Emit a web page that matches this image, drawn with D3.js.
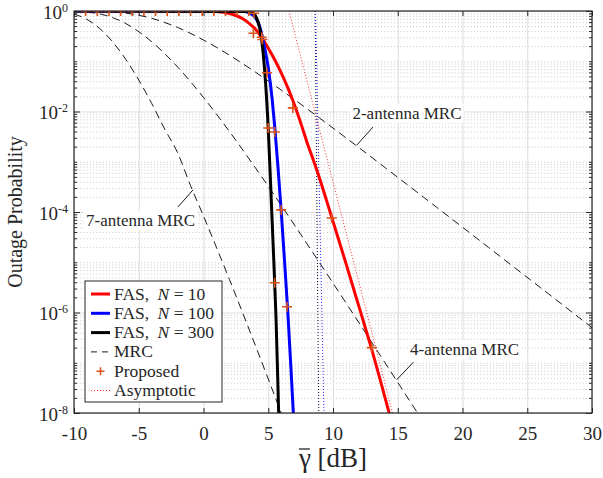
<!DOCTYPE html>
<html><head><meta charset="utf-8">
<script src="https://cdn.jsdelivr.net/npm/d3@7"></script>
<style>
body{margin:0;background:#fff}
svg{display:block}
text{font-family:"Liberation Serif","DejaVu Serif",serif;fill:#262626}
</style>
</head><body>
<svg id="chart" width="603" height="478"></svg>
<script>
// ---------------- data ----------------
const xTickValues = [-10,-5,0,5,10,15,20,25,30];
const yTickExponents = [0,-2,-4,-6,-8];

// MRC (dashed)
const mrc2X = [-10,-8,-6,-4,-2,0,2,4,6,8,10,12,14,16,18,20,22,24,26,28,30];
const mrc2P = [0.9995,0.9867,0.907,0.715,0.470,0.2642,0.1323,0.0609,0.0267,0.01131,4.68e-3,1.91e-3,7.72e-4,3.10e-4,1.243e-4,4.97e-5,1.983e-5,7.90e-6,3.155e-6,1.256e-6,5.0e-7];

const mrc4X = [-10,-8,-6,-4,-2,0,2,4,6,8,10,12,14,16,18];
const mrc4P = [0.9897,0.8745,0.5628,0.2448,0.0769,0.0190,4.01e-3,7.63e-4,1.358e-4,2.315e-5,3.845e-6,6.28e-7,1.014e-7,1.626e-8,2.6e-9];

const mrc7X = [-10,-9,-8,-7,-6,-5,-4,-3,-2,-1,0,1,2,3,4,5,6,7];
const mrc7P = [0.8699,0.6799,0.4437,0.240,0.1087,0.04235,0.01448,4.48e-3,1.51e-3,3.34e-4,8.32e-5,1.98e-5,4.56e-6,1.02e-6,2.22e-7,4.76e-8,1.0e-8,2.1e-9];

// FAS (solid)
const fas10X = [-10,-2,0,1,2,2.5,3,3.5,4,4.5,5,5.5,6,6.5,7,7.5,8,8.5,9,9.5,10,11,12,13,14,14.6];
const fas10P = [1,1,0.993,0.973,0.891,0.813,0.708,0.575,0.437,0.295,0.182,0.107,0.0589,0.0302,0.0141,6.0e-3,2.4e-3,1.05e-3,4.4e-4,1.7e-4,6.5e-5,9.5e-6,1.32e-6,1.8e-7,2.1e-8,5.6e-9];

const fas100X = [-10,3,3.5,4,4.3,4.6,5,5.3,5.5,5.75,6,6.25,6.5,6.75,7];
const fas100P = [1,0.993,0.933,0.741,0.525,0.263,0.0741,0.0178,5.0e-3,7.9e-4,1.05e-4,1.12e-5,1.12e-6,7.9e-8,5.0e-9];

const fas300X = [-10,3.5,3.8,4,4.2,4.4,4.6,4.8,5,5.2,5.4,5.6,5.8,5.9];
const fas300P = [1,0.977,0.912,0.813,0.617,0.380,0.151,0.0355,4.5e-3,2.8e-4,1.6e-5,7.9e-7,1.1e-8,1.3e-9];

// Proposed (markers)
const propX = [-10,-9.1,-8.2,-7.3,-6.4,-5.5,-4.6,-3.7,-2.8,-1.9,-1,-0.1,0.8,1.7,2.6,3.5,3.9,3.85,4.5,4.55,4.9,6.9,5.0,5.5,6.0,9.9,5.5,6.45,13.0];
const propP = [1,1,1,1,1,1,1,1,1,1,1,1,1,1,1,1,0.9,0.36,0.30,0.27,0.059,0.0118,4.7e-3,3.9e-3,1.1e-4,7.6e-5,3.9e-6,1.3e-6,2.0e-7];

// Asymptotic (dotted)
const asy10X = [6.6,14.6];   const asy10P = [1,1e-8];
const asy100X = [8.65,9.3];  const asy100P = [1,1e-8];
const asy300X = [8.62,8.9];  const asy300P = [1,1e-8];

// ---------------- layout ----------------
const FONT = "'Liberation Serif','DejaVu Serif',serif";
const svg = d3.select("#chart");
const L = 74, R = 592, T = 11, B = 413;
const x = d3.scaleLinear().domain([-10,30]).range([L,R]);
const y = d3.scaleLog().domain([1e-8,1]).range([B,T]);

const majorY = yTickExponents.map(e => Math.pow(10,e));
const minorY = [];
for (let e = -8; e < 0; e++) for (let k = 1; k <= 9; k++) {
  const v = k*Math.pow(10,e);
  if (!(k===1 && e%2===0)) minorY.push(v);
}
const allMinorTickY = [];
for (let e = -8; e < 0; e++) for (let k = 2; k <= 9; k++) allMinorTickY.push(k*Math.pow(10,e));
const oddDecades = [-1,-3,-5,-7].map(e=>Math.pow(10,e));

svg.append("defs").append("clipPath").attr("id","clip")
  .append("rect").attr("x",L).attr("y",T).attr("width",R-L).attr("height",B-T);

// grid
const grid = svg.append("g");
grid.append("g").attr("transform",`translate(${L},0)`)
  .call(d3.axisLeft(y).tickValues(minorY).tickSize(-(R-L)).tickFormat(""))
  .call(g=>g.select(".domain").remove())
  .call(g=>g.selectAll("line").attr("stroke","#bdbdbd").attr("stroke-width",0.8).attr("stroke-dasharray","1,2.2"));
grid.append("g").attr("transform",`translate(0,${B})`)
  .call(d3.axisBottom(x).tickValues(xTickValues).tickSize(-(B-T)).tickFormat(""))
  .call(g=>g.select(".domain").remove())
  .call(g=>g.selectAll("line").attr("stroke","#dcdcdc").attr("stroke-width",1));
grid.append("g").attr("transform",`translate(${L},0)`)
  .call(d3.axisLeft(y).tickValues(majorY).tickSize(-(R-L)).tickFormat(""))
  .call(g=>g.select(".domain").remove())
  .call(g=>g.selectAll("line").attr("stroke","#dcdcdc").attr("stroke-width",1));

// curves
const plot = svg.append("g").attr("clip-path","url(#clip)");
const line = d3.line().x(d=>x(d[0])).y(d=>y(d[1])).curve(d3.curveMonotoneX);
const zip = (xs,ps) => xs.map((v,i)=>[v,ps[i]]);

function drawLine(xs, ps, color, width, dash){
  plot.append("path").datum(zip(xs,ps))
    .attr("d",line).attr("fill","none").attr("stroke",color)
    .attr("stroke-width",width).attr("stroke-dasharray",dash||null);
}
drawLine(mrc2X, mrc2P, "#000", 0.9, "8,5");
drawLine(mrc4X, mrc4P, "#000", 0.9, "8,5");
drawLine(mrc7X, mrc7P, "#000", 0.9, "8,5");
drawLine(asy10X, asy10P, "#ff3030", 1, "1,2");
drawLine(asy300X, asy300P, "#000033", 1, "1,2");
drawLine(asy100X, asy100P, "#2020ff", 1, "1,2");
drawLine(fas10X, fas10P, "#ff0000", 3);
drawLine(fas100X, fas100P, "#0000ff", 3);
drawLine(fas300X, fas300P, "#000000", 3);

const mk = 5;
plot.append("g").selectAll("path").data(zip(propX,propP)).join("path")
  .attr("d", d=>{const px=x(d[0]), py=y(d[1]); return `M${px-mk},${py}H${px+mk}M${px},${py-mk}V${py+mk}`;})
  .attr("stroke","#d95319").attr("stroke-width",1.6).attr("fill","none");

// axes ticks (inward)
function styleAxis(g){ g.select(".domain").remove(); g.selectAll("line").attr("stroke","#262626"); }
const gBottom = svg.append("g").attr("transform",`translate(0,${B})`)
  .call(d3.axisBottom(x).tickValues(xTickValues).tickSize(-5).tickPadding(14).tickFormat(d=>d))
  .call(styleAxis);
gBottom.selectAll("text").style("font-size","19px").style("font-family",FONT).attr("fill","#262626");
svg.append("g").attr("transform",`translate(0,${T})`)
  .call(d3.axisTop(x).tickValues(xTickValues).tickSize(-5).tickFormat("")).call(styleAxis);

svg.append("g").attr("transform",`translate(${L},0)`)
  .call(d3.axisLeft(y).tickValues(majorY).tickSize(-6).tickFormat("")).call(styleAxis);
svg.append("g").attr("transform",`translate(${L},0)`)
  .call(d3.axisLeft(y).tickValues(allMinorTickY.concat(oddDecades)).tickSize(-3).tickFormat("")).call(styleAxis);
svg.append("g").attr("transform",`translate(${R},0)`)
  .call(d3.axisRight(y).tickValues(majorY).tickSize(-6).tickFormat("")).call(styleAxis);
svg.append("g").attr("transform",`translate(${R},0)`)
  .call(d3.axisRight(y).tickValues(allMinorTickY.concat(oddDecades)).tickSize(-3).tickFormat("")).call(styleAxis);

// y tick labels 10^e
const yl = svg.append("g");
yTickExponents.forEach(e=>{
  const t = yl.append("text").attr("x",L-6).attr("y",y(Math.pow(10,e))+7.5).attr("text-anchor","end").style("font-family",FONT);
  t.append("tspan").style("font-size","19px").text("10");
  t.append("tspan").style("font-size","12px").attr("dy",-7).text(e);
});

// box
svg.append("rect").attr("x",L).attr("y",T).attr("width",R-L).attr("height",B-T)
  .attr("fill","none").attr("stroke","#262626").attr("stroke-width",1.2);

// axis titles
svg.append("text").attr("transform",`translate(22,${(T+B)/2}) rotate(-90)`)
  .attr("text-anchor","middle").style("font-family",FONT).style("font-size","20px").text("Outage Probability");
const xl = svg.append("text").attr("x",(L+R)/2).attr("y",467).attr("text-anchor","middle").style("font-family",FONT).style("font-size","27px");
xl.append("tspan").attr("id","gam").text("γ");
xl.append("tspan").text(" [dB]");
const gb = document.getElementById("gam").getBBox();
svg.append("line").attr("x1",gb.x+1).attr("x2",gb.x+gb.width-1).attr("y1",449).attr("y2",449)
  .attr("stroke","#262626").attr("stroke-width",1.3);

// annotations
function annot(txt, tx, tp, vx, vp, ex, ep){
  const g = svg.append("g");
  const t = g.append("text").attr("x",x(tx)).attr("y",y(tp)).style("font-family",FONT).style("font-size","17px").text(txt);
  const bb = t.node().getBBox();
  g.insert("rect","text").attr("x",bb.x-2).attr("y",bb.y).attr("width",bb.width+4).attr("height",bb.height).attr("fill","#fff");
  g.append("line").attr("x1",x(vx)).attr("y1",y(vp)).attr("x2",x(ex)).attr("y2",y(ep)).attr("stroke","#000").attr("stroke-width",0.9);
}
annot("2-antenna MRC", 11.5, Math.pow(10,-2.15), 11.83, Math.pow(10,-2.67), 13.09, Math.pow(10,-2.31));
annot("7-antenna MRC", -9.07, Math.pow(10,-4.28), -0.81, Math.pow(10,-3.56), -1.97, Math.pow(10,-3.90));
annot("4-antenna MRC", 15.95, Math.pow(10,-6.85), 14.92, Math.pow(10,-7.34), 16.2, Math.pow(10,-6.99));

// legend
const lg = svg.append("g");
lg.append("rect").attr("x",85).attr("y",281).attr("width",137).attr("height",121)
  .attr("fill","#fff").attr("stroke","#262626").attr("stroke-width",1);
const legendItems = [
  {type:"line", color:"#ff0000", w:3, label:["FAS, ","N"," = 10"]},
  {type:"line", color:"#0000ff", w:3, label:["FAS, ","N"," = 100"]},
  {type:"line", color:"#000000", w:3, label:["FAS, ","N"," = 300"]},
  {type:"line", color:"#000", w:0.9, dash:"6,5", label:["MRC"]},
  {type:"marker", color:"#d95319", label:["Proposed"]},
  {type:"line", color:"#ff3030", w:1, dash:"1,2", label:["Asymptotic"]}
];
legendItems.forEach((it,i)=>{
  const cy = 294 + i*19.3;
  if (it.type==="line") {
    lg.append("line").attr("x1",91).attr("x2",110).attr("y1",cy).attr("y2",cy)
      .attr("stroke",it.color).attr("stroke-width",it.w).attr("stroke-dasharray",it.dash||null);
  } else {
    lg.append("path").attr("d",`M${100.5-4},${cy}H${100.5+4}M${100.5},${cy-4}V${cy+4}`)
      .attr("stroke",it.color).attr("stroke-width",1.5);
  }
  const t = lg.append("text").attr("x",114).attr("y",cy+5.5).style("font-family",FONT).style("font-size","17.5px");
  if (it.label.length===3) {
    t.append("tspan").text(it.label[0]);
    t.append("tspan").attr("dx",4).attr("font-style","italic").text(it.label[1]);
    t.append("tspan").text(it.label[2]);
  } else t.text(it.label[0]);
});
</script>
</body></html>
